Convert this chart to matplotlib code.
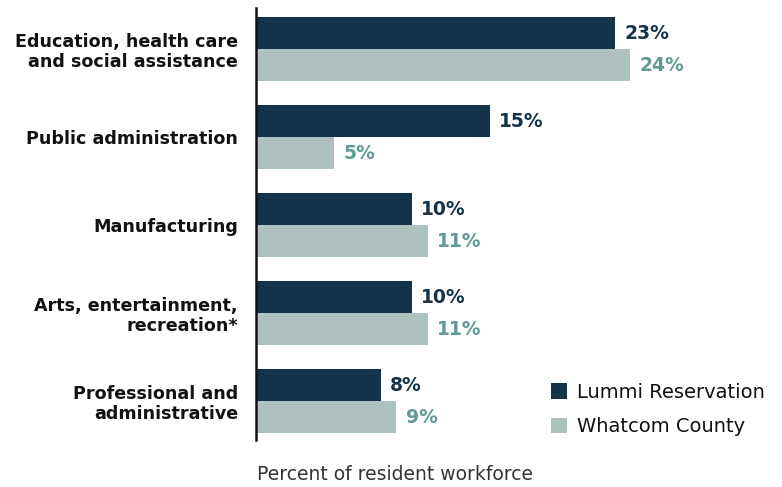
import matplotlib.pyplot as plt
import numpy as np

plt.rcParams['font.family'] = ['DejaVu Sans']

industries = ["Education, health care\nand social assistance",
              "Public administration",
              "Manufacturing",
              "Arts, entertainment,\nrecreation*",
              "Professional and\nadministrative"]
lummi = [23, 15, 10, 10, 8]
whatcom = [24, 5, 11, 11, 9]

dark = "#11344a"
light = "#adc2bf"
teal = "#5f9a93"

fig = plt.figure(figsize=(7.82, 4.87), dpi=100)
ax = fig.add_axes([256/782, 47/487, 514/782, 432/487])

y = np.arange(len(industries))
h = 32/88

ax.barh(y - h/2, lummi, height=h, color=dark, label="Lummi Reservation")
ax.barh(y + h/2, whatcom, height=h, color=light, label="Whatcom County")

for yi, v in zip(y, lummi):
    ax.text(v + 0.6, yi - h/2, f"{v}%", va='center', ha='left',
            fontsize=13.5, fontweight='bold', color=dark)
for yi, v in zip(y, whatcom):
    ax.text(v + 0.6, yi + h/2, f"{v}%", va='center', ha='left',
            fontsize=13.5, fontweight='bold', color=teal)

ax.set_xlim(0, 514/15.6)
ax.set_ylim(4.443, -0.466)
ax.set_yticks(y)
ax.set_yticklabels(industries, fontsize=12.6, fontweight='bold', color='#111111',
                   linespacing=1.15)
ax.tick_params(axis='y', length=0, pad=13)
ax.set_xticks([])
for s in ['top', 'right', 'bottom']:
    ax.spines[s].set_visible(False)
ax.spines['left'].set_linewidth(1.8)
ax.spines['left'].set_color('#111111')

fig.text(395/782, 12/487, "Percent of resident workforce", ha='center',
         va='center', fontsize=13.5, color='#333333')

ax.legend(loc='upper left', bbox_to_anchor=(533/782, 1 - 365/487),
          bbox_transform=fig.transFigure, frameon=False, fontsize=14,
          handlelength=0.85, handleheight=0.85, handletextpad=0.5,
          labelspacing=0.8, labelcolor='#111111')

fig.savefig("out.png", dpi=100)
